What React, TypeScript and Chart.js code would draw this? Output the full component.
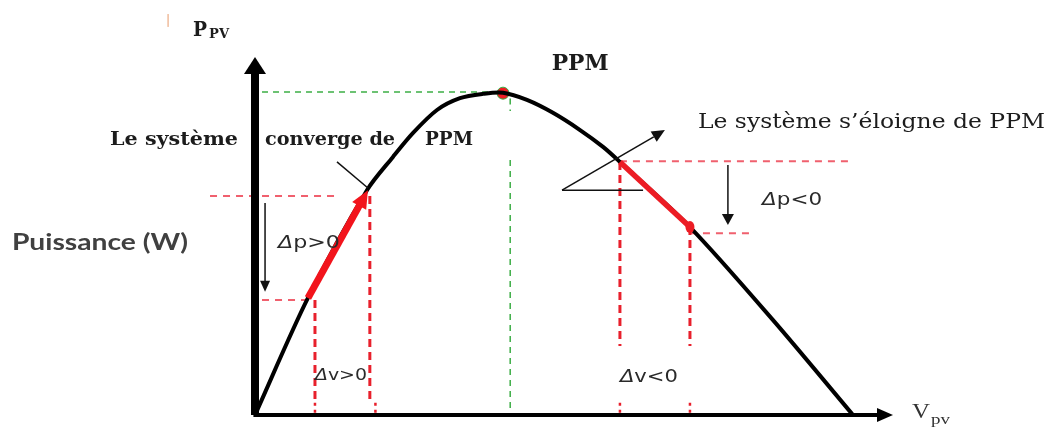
import { useEffect, useRef } from "react";
import { Chart, registerables } from "chart.js";

Chart.register(...registerables);

// P-V characteristic (voltage in V, power in W, schematic values)
const VOLTAGE = [0, 3.32, 7.02, 8.65, 9.91, 11.41, 12.85, 14.29, 15.55, 17.05, 18.68, 20.38, 21.82, 22.88, 27.27, 32.48, 37.49];
const POWER = [0, 32.7, 62.8, 72.1, 78.8, 85.2, 88.5, 89.7, 90.0, 88.0, 84.4, 79.6, 74.9, 70.7, 52.5, 26.5, 0];

// Maximum power point
const MPP_V = 15.55;
const MPP_P = 89.9;

// Operating points of the perturbation steps
const LEFT_STEP_V = [3.32, 7.08];
const LEFT_STEP_P = [32.7, 62.8];
const RIGHT_STEP_V = [22.88, 27.27];
const RIGHT_STEP_P = [70.7, 52.5];

// Axis extents
const V_MAX = 40;
const P_MAX = 100;

const TEXTS = {
  yName: "P",
  ySub: "PV",
  mpp: "PPM",
  converge: ["Le système", "converge de", "PPM"],
  diverge: "Le système s\u2019éloigne de PPM",
  yLabel: "Puissance (W)",
  dpPos: "p>0",
  dvPos: "v>0",
  dpNeg: "p<0",
  dvNeg: "v<0",
  xName: "V",
  xSub: "pv",
};

type Run = { text: string; font: string; dy?: number };

function drawRuns(ctx: CanvasRenderingContext2D, runs: Run[], x: number, y: number, width?: number) {
  let total = 0;
  const ws: number[] = [];
  for (const r of runs) {
    ctx.font = r.font;
    const w = ctx.measureText(r.text).width;
    ws.push(w);
    total += w;
  }
  const s = width ? width / total : 1;
  ctx.save();
  ctx.translate(x, y);
  ctx.scale(s, 1);
  let cx = 0;
  runs.forEach((r, i) => {
    ctx.font = r.font;
    ctx.fillText(r.text, cx, r.dy || 0);
    cx += ws[i];
  });
  ctx.restore();
}

function seg(ctx: CanvasRenderingContext2D, a: number[], b: number[]) {
  ctx.beginPath();
  ctx.moveTo(a[0], a[1]);
  ctx.lineTo(b[0], b[1]);
  ctx.stroke();
}

function head(ctx: CanvasRenderingContext2D, from: number[], to: number[], len: number, half: number) {
  const dx = to[0] - from[0];
  const dy = to[1] - from[1];
  const d = Math.hypot(dx, dy);
  const ux = dx / d;
  const uy = dy / d;
  const bx = to[0] - ux * len;
  const by = to[1] - uy * len;
  ctx.beginPath();
  ctx.moveTo(to[0], to[1]);
  ctx.lineTo(bx - uy * half, by + ux * half);
  ctx.lineTo(bx + uy * half, by - ux * half);
  ctx.closePath();
  ctx.fill();
}

const diagramPlugin = {
  id: "diagram",
  beforeDatasetsDraw(chart: any) {
    const ctx: CanvasRenderingContext2D = chart.ctx;
    const xs = chart.scales.x;
    const ys = chart.scales.y;
    const P = (v: number, p: number) => [xs.getPixelForValue(v), ys.getPixelForValue(p)];

    ctx.save();
    // green guides to the MPP
    ctx.strokeStyle = "#3cae46";
    ctx.lineWidth = 1.5;
    ctx.setLineDash([6, 5]);
    seg(ctx, P(0.44, MPP_P + 0.3), P(MPP_V, MPP_P + 0.3));
    seg(ctx, P(MPP_V + 0.45, MPP_P - 1.5), P(MPP_V + 0.45, MPP_P - 5));
    seg(ctx, P(MPP_V + 0.45, 71.2), P(MPP_V + 0.45, 0));

    // red horizontal guides
    ctx.strokeStyle = "#f0606e";
    ctx.lineWidth = 2;
    ctx.setLineDash([7, 6]);
    seg(ctx, P(-2.82, LEFT_STEP_P[1] - 1.6), P(5.2, LEFT_STEP_P[1] - 1.6));
    seg(ctx, P(0.44, LEFT_STEP_P[0] - 0.6), P(LEFT_STEP_V[0], LEFT_STEP_P[0] - 0.6));
    seg(ctx, P(RIGHT_STEP_V[0], RIGHT_STEP_P[0] + 0.2), P(37.3, RIGHT_STEP_P[0] + 0.2));
    seg(ctx, P(RIGHT_STEP_V[1], RIGHT_STEP_P[1] - 1.7), P(31.03, RIGHT_STEP_P[1] - 1.7));

    // red vertical guides
    ctx.strokeStyle = "#e8202c";
    ctx.lineWidth = 3;
    ctx.setLineDash([8, 5]);
    seg(ctx, P(3.76, LEFT_STEP_P[0] - 0.6), P(3.76, 3.4));
    seg(ctx, P(7.2, LEFT_STEP_P[1] - 1.6), P(7.2, 3.4));
    seg(ctx, P(RIGHT_STEP_V[0], RIGHT_STEP_P[0]), P(RIGHT_STEP_V[0], 19.3));
    seg(ctx, P(RIGHT_STEP_V[1], RIGHT_STEP_P[1]), P(RIGHT_STEP_V[1], 19.3));
    ctx.lineWidth = 2.5;
    ctx.setLineDash([3, 4]);
    for (const v of [3.76, 7.55, RIGHT_STEP_V[0], RIGHT_STEP_V[1]]) seg(ctx, P(v, 3.4), P(v, 0));
    ctx.setLineDash([]);

    // axes
    ctx.strokeStyle = "#000";
    ctx.fillStyle = "#000";
    ctx.lineWidth = 8;
    seg(ctx, P(0, 0), P(0, P_MAX - 4));
    head(ctx, P(0, P_MAX - 5), P(0, P_MAX), 17, 11);
    ctx.lineWidth = 4;
    seg(ctx, P(-0.1, 0), P(V_MAX - 0.8, 0));
    head(ctx, P(V_MAX - 2, 0), P(V_MAX, 0), 16, 7);
    ctx.restore();
  },
  afterDatasetsDraw(chart: any) {
    const ctx: CanvasRenderingContext2D = chart.ctx;
    const xs = chart.scales.x;
    const ys = chart.scales.y;
    const P = (v: number, p: number) => [xs.getPixelForValue(v), ys.getPixelForValue(p)];

    ctx.save();
    ctx.lineCap = "butt";
    // red perturbation arrow (left)
    const a0 = P(LEFT_STEP_V[0], LEFT_STEP_P[0]);
    const a1 = P(LEFT_STEP_V[1], LEFT_STEP_P[1]);
    ctx.strokeStyle = "#f2141c";
    ctx.fillStyle = "#f2141c";
    ctx.lineWidth = 7;
    const d = Math.hypot(a1[0] - a0[0], a1[1] - a0[1]);
    const k = (d - 14) / d;
    seg(ctx, a0, [a0[0] + (a1[0] - a0[0]) * k, a0[1] + (a1[1] - a0[1]) * k]);
    head(ctx, a0, a1, 18, 8);

    // red segment (right)
    const b0 = P(RIGHT_STEP_V[0], RIGHT_STEP_P[0]);
    const b1 = P(RIGHT_STEP_V[1], RIGHT_STEP_P[1]);
    ctx.strokeStyle = "#ec1c24";
    ctx.lineWidth = 5.5;
    seg(ctx, b0, b1);
    ctx.fillStyle = "#ec1c24";
    ctx.beginPath();
    ctx.ellipse(b1[0], b1[1], 4.5, 6, 0, 0, Math.PI * 2);
    ctx.fill();

    // black helper arrows
    ctx.strokeStyle = "#111";
    ctx.fillStyle = "#111";
    ctx.lineWidth = 1.5;
    seg(ctx, P(0.63, 59.2), P(0.63, 36));
    head(ctx, P(0.63, 59.2), P(0.63, 34.4), 11, 5);
    seg(ctx, P(29.65, 69.8), P(29.65, 55));
    head(ctx, P(29.65, 69.8), P(29.65, 53.1), 11, 6);
    seg(ctx, P(5.14, 70.7), P(7.08, 63.4));
    const e0 = P(19.25, 62.8);
    const e1 = P(25.7, 79.6);
    seg(ctx, e0, P(25.0, 77.7));
    head(ctx, e0, e1, 13, 6);
    seg(ctx, e0, P(24.33, 62.8));

    // orange tick beside the axis name
    ctx.strokeStyle = "#e89a6a";
    ctx.lineWidth = 1;
    seg(ctx, P(-5.45, 112), P(-5.45, 108.4));

    // texts
    ctx.textBaseline = "alphabetic";
    ctx.fillStyle = "#1c1c1c";
    const T = (v: number, p: number) => P(v, p);
    let q = T(-3.89, 105.9);
    drawRuns(ctx, [{ text: TEXTS.yName, font: "bold 20px 'DejaVu Serif'" }], q[0], q[1], 14);
    q = T(-2.88, 105.4);
    drawRuns(ctx, [{ text: TEXTS.ySub, font: "bold 12px 'DejaVu Serif'" }], q[0], q[1], 20);

    q = T(18.6, 96.4);
    drawRuns(ctx, [{ text: TEXTS.mpp, font: "bold 23px 'DejaVu Serif'" }], q[0], q[1], 57);

    q = T(-9.09, 75.5);
    drawRuns(ctx, [{ text: TEXTS.converge[0], font: "bold 19px 'DejaVu Serif'" }], q[0], q[1], 128);
    q = T(0.63, 75.5);
    drawRuns(ctx, [{ text: TEXTS.converge[1], font: "bold 19px 'DejaVu Serif'" }], q[0], q[1], 130);
    q = T(10.66, 75.5);
    drawRuns(ctx, [{ text: TEXTS.converge[2], font: "bold 19px 'DejaVu Serif'" }], q[0], q[1], 48);

    q = T(27.77, 80.2);
    drawRuns(ctx, [{ text: TEXTS.diverge, font: "20px 'DejaVu Serif'" }], q[0], q[1], 347);

    ctx.fillStyle = "#404040";
    q = T(-15.24, 46.1);
    drawRuns(ctx, [{ text: TEXTS.yLabel, font: "bold 23px Lato" }], q[0], q[1], 176);

    const dFont = "italic 18px 'DejaVu Sans'";
    const rFont = "18px 'DejaVu Sans'";
    ctx.fillStyle = "#2a2a2a";
    q = T(1.44, 46.6);
    drawRuns(ctx, [{ text: "\u0394", font: dFont }, { text: TEXTS.dpPos, font: rFont }], q[0], q[1], 62);
    q = T(3.76, 9.8);
    drawRuns(ctx, [{ text: "\u0394", font: "italic 16px 'DejaVu Sans'" }, { text: TEXTS.dvPos, font: "16px 'DejaVu Sans'" }], q[0], q[1], 52);
    q = T(31.79, 58.6);
    drawRuns(ctx, [{ text: "\u0394", font: dFont }, { text: TEXTS.dpNeg, font: rFont }], q[0], q[1], 60);
    q = T(22.88, 9.2);
    drawRuns(ctx, [{ text: "\u0394", font: dFont }, { text: TEXTS.dvNeg, font: rFont }], q[0], q[1], 58);

    ctx.fillStyle = "#333";
    q = T(41.19, -0.84);
    drawRuns(ctx, [{ text: TEXTS.xName, font: "20px 'Liberation Serif'" }], q[0], q[1], 18);
    q = T(42.38, -2.4);
    drawRuns(ctx, [{ text: TEXTS.xSub, font: "15px 'Liberation Serif'" }], q[0], q[1], 19);
    ctx.restore();
  },
};

export default function App() {
  const ref = useRef<HTMLCanvasElement | null>(null);
  useEffect(() => {
    if (!ref.current) return;
    const chart = new Chart(ref.current, {
      type: "scatter",
      data: {
        datasets: [
          {
            data: VOLTAGE.map((v, i) => ({ x: v, y: POWER[i] })),
            showLine: true,
            borderColor: "#000",
            borderWidth: 4,
            pointRadius: 0,
            tension: 0.3,
            borderJoinStyle: "round",
          } as any,
          {
            data: [{ x: MPP_V, y: MPP_P }],
            pointRadius: 6,
            backgroundColor: "#ee1c24",
            borderColor: "#3cae46",
            borderWidth: 1,
          },
        ],
      },
      options: {
        responsive: false,
        animation: false,
        events: [],
        layout: { padding: { left: 255, right: 157, top: 57, bottom: 14 } },
        scales: {
          x: { type: "linear", min: 0, max: V_MAX, display: false },
          y: { type: "linear", min: 0, max: P_MAX, display: false },
        },
        plugins: { legend: { display: false }, tooltip: { enabled: false } },
      },
      plugins: [diagramPlugin],
    });
    return () => chart.destroy();
  }, []);
  return (
    <div style={{ position: "fixed", left: 0, top: 0, width: 1050, height: 429, background: "#fff" }}>
      <canvas ref={ref} width={1050} height={429} style={{ width: 1050, height: 429, display: "block" }} />
    </div>
  );
}
